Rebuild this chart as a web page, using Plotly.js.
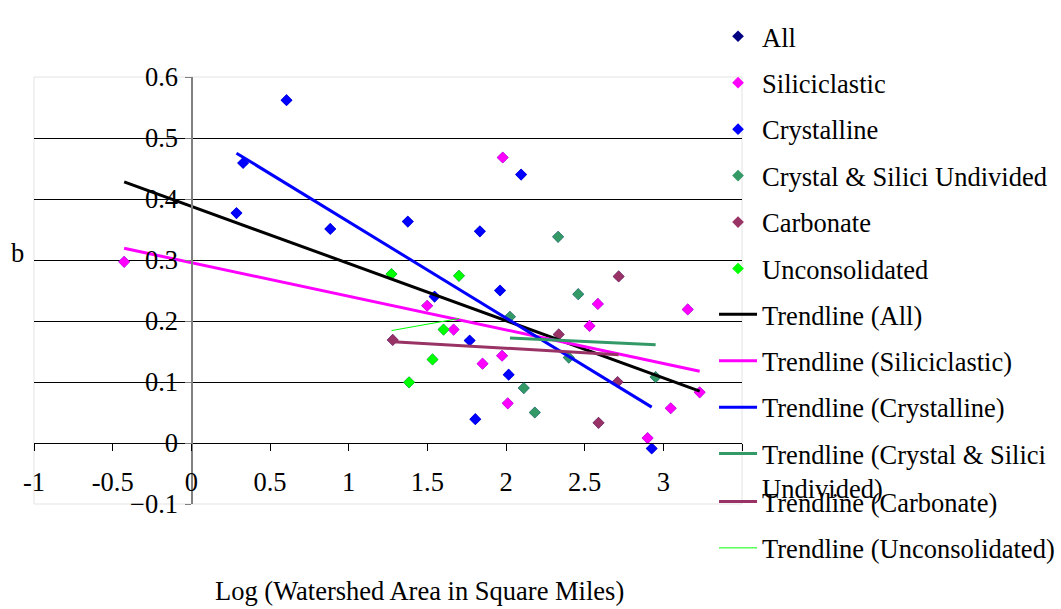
<!DOCTYPE html>
<html>
<head>
<meta charset="utf-8">
<script src="https://cdn.plot.ly/plotly-3.0.1.min.js"></script>
<style>
  html, body { margin: 0; padding: 0; background: #ffffff; }
  #chart { width: 1061px; height: 609px; }
</style>
</head>
<body>
<div id="chart"></div>
<script>
// Recession exponent b against log watershed area, by aquifer group
const siliX = [-0.427, 1.979, 2.584, 1.499, 3.155, 2.531, 1.667, 1.975, 1.851, 3.231, 2.011, 3.047, 2.900];
const siliY = [0.297, 0.468, 0.228, 0.225, 0.219, 0.192, 0.186, 0.143, 0.130, 0.083, 0.065, 0.057, 0.008];

const crysX = [0.287, 0.329, 0.605, 0.883, 1.376, 1.546, 1.769, 1.805, 1.834, 1.962, 2.017, 2.096, 2.926];
const crysY = [0.377, 0.459, 0.562, 0.351, 0.363, 0.240, 0.168, 0.039, 0.347, 0.250, 0.112, 0.440, -0.009];

const undivX = [2.025, 2.113, 2.183, 2.331, 2.399, 2.459, 2.951];
const undivY = [0.207, 0.090, 0.050, 0.338, 0.140, 0.244, 0.108];

const carbX = [1.280, 2.335, 2.588, 2.709, 2.716];
const carbY = [0.169, 0.178, 0.033, 0.100, 0.273];

const uncX = [1.272, 1.384, 1.533, 1.603, 1.701];
const uncY = [0.277, 0.0995, 0.137, 0.186, 0.274];

const groupNames = ["Siliciclastic", "Crystalline", "Crystal & Silici Undivided", "Carbonate", "Unconsolidated"];
const groupColors = ["#FF00FF", "#0000FF", "#339966", "#993366", "#00FF00"];
const trendWidths = [3, 3, 3, 3, 1];

const xTicks = [-1, -0.5, 0, 0.5, 1, 1.5, 2, 2.5, 3, 3.5];
const xTickText = ["-1", "-0.5", "0", "0.5", "1", "1.5", "2", "2.5", "3", ""];
const yTicks = [-0.1, 0, 0.1, 0.2, 0.3, 0.4, 0.5, 0.6];
const yGrid = [0.1, 0.2, 0.3, 0.4, 0.5];

const groupX = [siliX, crysX, undivX, carbX, uncX];
const groupY = [siliY, crysY, undivY, carbY, uncY];

// "All" combines every group
const allX = [].concat(...groupX);
const allY = [].concat(...groupY);

// Ordinary least-squares line over the span of the series
function trend(xs, ys) {
  const n = xs.length;
  const mx = xs.reduce((a, b) => a + b, 0) / n;
  const my = ys.reduce((a, b) => a + b, 0) / n;
  let sxy = 0, sxx = 0;
  for (let i = 0; i < n; i++) {
    sxy += (xs[i] - mx) * (ys[i] - my);
    sxx += (xs[i] - mx) * (xs[i] - mx);
  }
  const slope = sxy / sxx;
  const x0 = Math.min(...xs), x1 = Math.max(...xs);
  return { x: [x0, x1], y: [my + slope * (x0 - mx), my + slope * (x1 - mx)] };
}

const FONT = "Liberation Serif";
const FS = 26.5;
const traces = [];
let g = 0;
traces.push({
  type: "scatter", mode: "markers", name: "All",
  x: allX, y: allY,
  marker: { symbol: "diamond", size: 9, color: "#000080" },
  legendgroup: "g" + (g++), legend: "legend"
});
groupNames.forEach((nm, i) => {
  traces.push({
    type: "scatter", mode: "markers", name: nm,
    x: groupX[i], y: groupY[i],
    marker: { symbol: "diamond", size: 9, color: groupColors[i] },
    legendgroup: "g" + (g++), legend: "legend"
  });
});

const tAll = trend(allX, allY);
traces.push({
  type: "scatter", mode: "lines", name: "Trendline (All)",
  x: tAll.x, y: tAll.y,
  line: { color: "#000000", width: 3 },
  legendgroup: "g" + (g++), legend: "legend2"
});
groupNames.forEach((nm, i) => {
  const t = trend(groupX[i], groupY[i]);
  const label = i === 2 ? "Trendline (Crystal & Silici<br>Undivided)" : "Trendline (" + nm + ")";
  traces.push({
    type: "scatter", mode: "lines", name: label,
    x: t.x, y: t.y,
    line: { color: groupColors[i], width: trendWidths[i] },
    legendgroup: "g" + (g++),
    legend: i >= 3 ? "legend3" : "legend2",
    yaxis: i === 4 ? "y2" : "y"
  });
});

const legendCommon = {
  xanchor: "left", yanchor: "top",
  bgcolor: "rgba(0,0,0,0)", borderwidth: 0,
  font: { family: FONT, size: FS, color: "#000000" },
  tracegroupgap: 9, itemwidth: 38, valign: "top", maxheight: 600
};

const layout = {
  width: 1061, height: 609,
  margin: { l: 34, r: 319, t: 77, b: 105, pad: 0, autoexpand: false },
  paper_bgcolor: "#ffffff", plot_bgcolor: "#ffffff",
  font: { family: FONT, size: FS, color: "#000000" },
  showlegend: true,
  xaxis: {
    range: [-1, 3.5], domain: [0, 1],
    anchor: "free", position: 1 / 7,
    tickvals: xTicks, ticktext: xTickText,
    ticks: "outside", ticklen: 7, tickcolor: "#000000", tickwidth: 1,
    showline: true, linecolor: "#000000", linewidth: 1,
    showgrid: false, zeroline: false,
    ticklabelstandoff: 8,
    tickfont: { family: FONT, size: FS, color: "#000000" }
  },
  yaxis: {
    range: [-0.1, 0.6], domain: [0, 1],
    anchor: "x",
    tickvals: yGrid, showticklabels: false, ticks: "",
    showgrid: true, gridcolor: "#000000", gridwidth: 1,
    showline: false, zeroline: false
  },
  yaxis2: {
    range: [-0.1, 0.6], overlaying: "y",
    anchor: "free", position: 1 / 4.5, side: "left",
    tickvals: yTicks,
    ticks: "outside", ticklen: 6, tickcolor: "#808080",
    showline: true, linecolor: "#808080", linewidth: 1.5,
    showgrid: false, zeroline: false,
    ticklabelstandoff: 2,
    tickfont: { family: FONT, size: FS, color: "#000000" }
  },
  legend: Object.assign({}, legendCommon, { x: 0.9605, y: 1.151 }),
  legend2: Object.assign({}, legendCommon, { x: 0.9605, y: 0.500 }),
  legend3: Object.assign({}, legendCommon, { x: 0.9605, y: 0.0616 }),
  shapes: [
    { type: "rect", xref: "paper", yref: "paper", x0: 0, x1: 1, y0: 0, y1: 1,
      line: { color: "#e3e3e3", width: 1 }, layer: "below" }
  ],
  annotations: [
    { text: "Log (Watershed Area in Square Miles)", xref: "paper", yref: "paper",
      x: 0.545, y: -0.204, showarrow: false, xanchor: "center", yanchor: "middle",
      font: { family: FONT, size: FS, color: "#000000" } },
    { text: "b", xref: "paper", yref: "paper",
      x: -0.024, y: 0.588, showarrow: false, xanchor: "center", yanchor: "middle",
      font: { family: FONT, size: FS, color: "#000000" } }
  ]
};

Plotly.newPlot("chart", traces, layout, { staticPlot: true, displayModeBar: false });
</script>
</body>
</html>
